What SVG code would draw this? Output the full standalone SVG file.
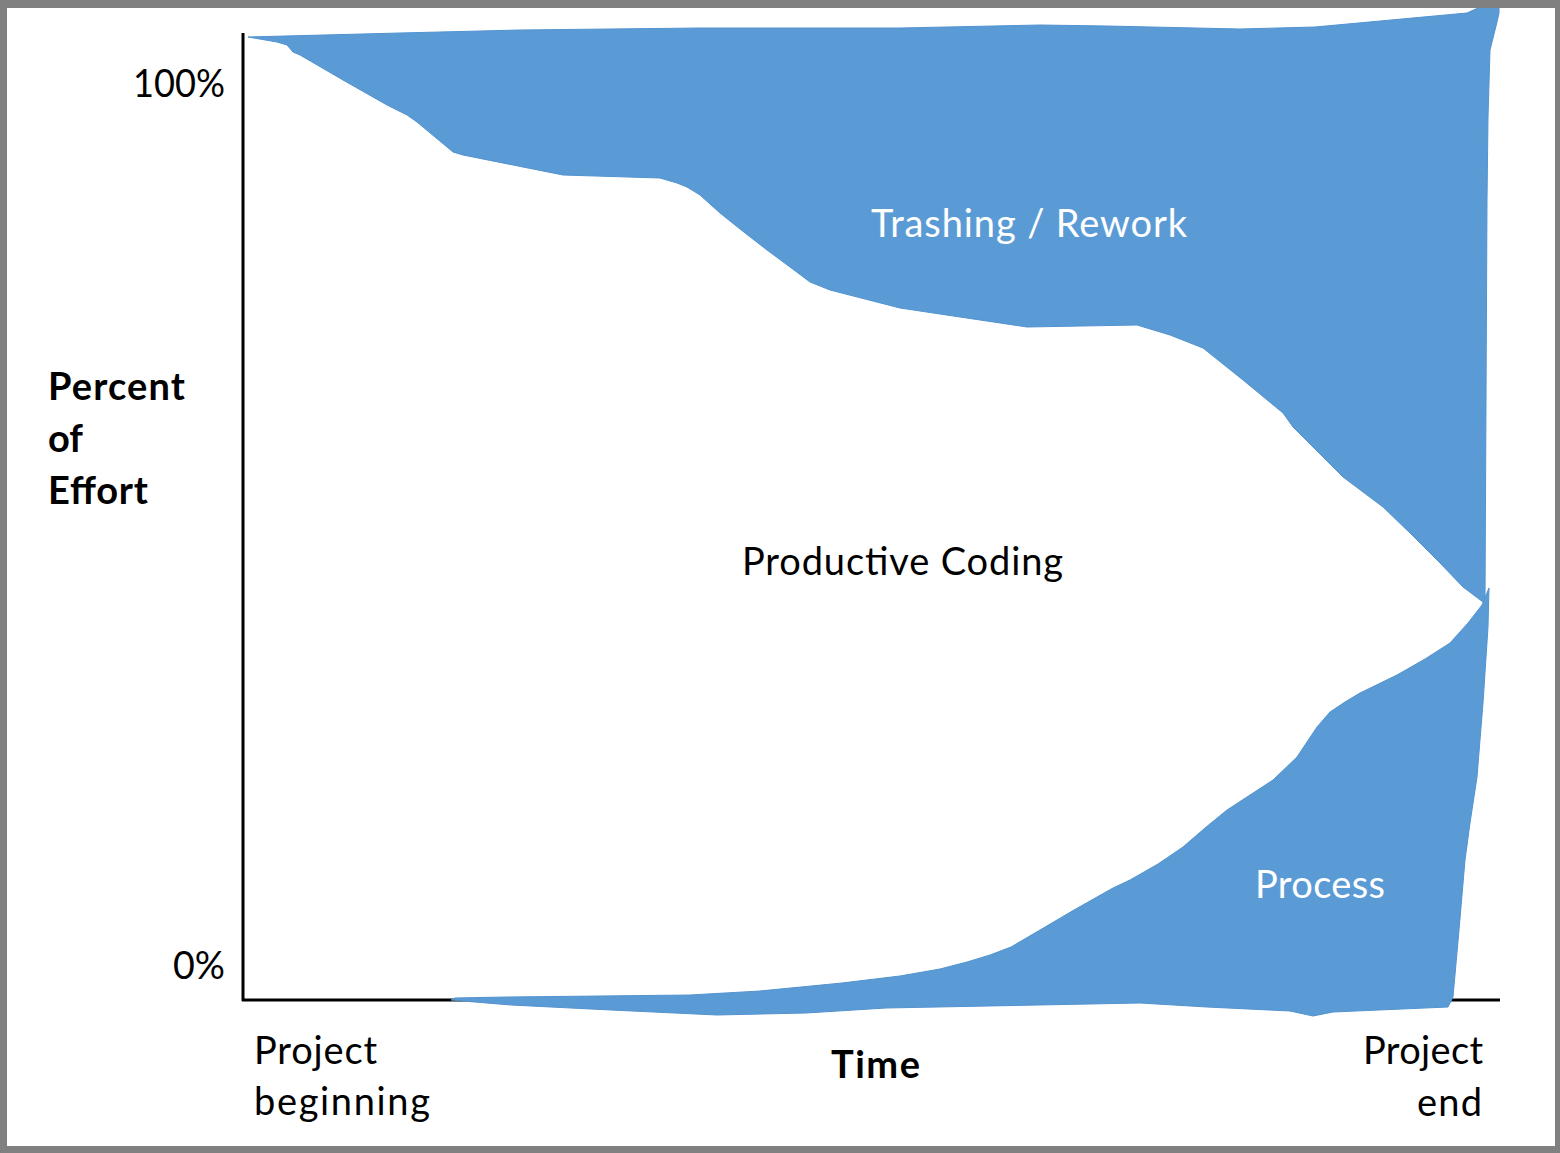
<svg xmlns="http://www.w3.org/2000/svg" width="1560" height="1153" viewBox="0 0 1560 1153">
<style>
  .area { fill: #5B9BD5; stroke: #5393CF; stroke-width: 1; stroke-linejoin: round; }
  .axis { stroke: #000; stroke-width: 3; fill: none; }
  .t { font-family: Lato, "Open Sans", "Liberation Sans", sans-serif; font-size: 38px; fill: #000; }
  .w { fill: #fff; }
  .b { font-weight: bold; }
</style>
<rect x="0" y="0" width="1560" height="1153" fill="#fff"/>
<g id="axes">
  <line class="axis" x1="243" y1="33" x2="243" y2="1001"/>
  <line class="axis" x1="242" y1="1000" x2="1500" y2="1000"/>
</g>
<g id="trashing">
  <path class="area" d="M248,37 L400,33 L520,30 L700,28 L900,28 L1040,25 L1107,26 L1240,29 L1315,27 L1467,13 L1480,7 L1487,4 L1499,4 L1499,13 L1497,22 L1492,42 L1490,50 L1488,117 L1487,200 L1486,400 L1485,600 L1483,602 L1463,587 L1440,563 L1410,533 L1383,507 L1343,477 L1318,452 L1293,427 L1283,413 L1243,380 L1203,348 L1170,335 L1137,325 L1027,327 L960,317 L900,308 L830,290 L810,282 L790,267 L767,250 L740,229 L720,213 L700,195 L687,187 L677,183 L660,178 L563,175 L513,165 L463,155 L453,152 L435,137 L417,122 L407,115 L387,105 L343,80 L300,55 L293,52 L287,45 L277,42 Z"/>
  <text class="t w" x="871" y="237" textLength="316">Trashing / Rework</text>
</g>
<g id="process">
  <path class="area" d="M1489,588 L1488,627 L1483,703 L1477,777 L1470,823 L1465,860 L1459,930 L1453,997 L1448,1007 L1333,1012 L1313,1016 L1290,1011 L1207,1007 L1140,1003 L886,1008 L806,1013 L717,1015 L611,1010 L511,1005 L451,1000 L455,998 L507,997 L600,996 L690,995 L760,991 L842,983 L900,976 L940,969 L967,962 L990,955 L1011,947 L1040,930 L1074,910 L1113,888 L1130,880 L1158,864 L1183,847 L1205,828 L1227,810 L1250,795 L1273,780 L1297,757 L1317,727 L1330,712 L1345,702 L1360,693 L1397,675 L1425,659 L1450,643 L1468,623 L1482,605 Z"/>
  <text class="t w" x="1255" y="898" textLength="130">Process</text>
</g>
<g id="productive">
  <text class="t" x="742" y="575" textLength="321">Productive Coding</text>
</g>
<g id="labels">
  <text class="t" x="133" y="97" textLength="92" lengthAdjust="spacingAndGlyphs" style="font-size:39px">100%</text>
  <text class="t" x="173" y="979" textLength="52" lengthAdjust="spacingAndGlyphs" style="font-size:39px">0%</text>
  <text class="t b" x="48" y="400" textLength="137">Percent</text>
  <text class="t b" x="48" y="452">of</text>
  <text class="t b" x="48" y="504" textLength="100">Effort</text>
  <text class="t" x="254" y="1064" textLength="123">Project</text>
  <text class="t" x="254" y="1115" textLength="176">beginning</text>
  <text class="t b" x="831" y="1078" textLength="89">Time</text>
  <text class="t" x="1363" y="1064" textLength="120">Project</text>
  <text class="t" x="1417" y="1116" textLength="65">end</text>
</g>
<path id="frame" fill="#808080" fill-rule="evenodd" d="M0,0 H1560 V1153 H0 Z M7,8 V1146 H1555 V8 Z"/>
</svg>
